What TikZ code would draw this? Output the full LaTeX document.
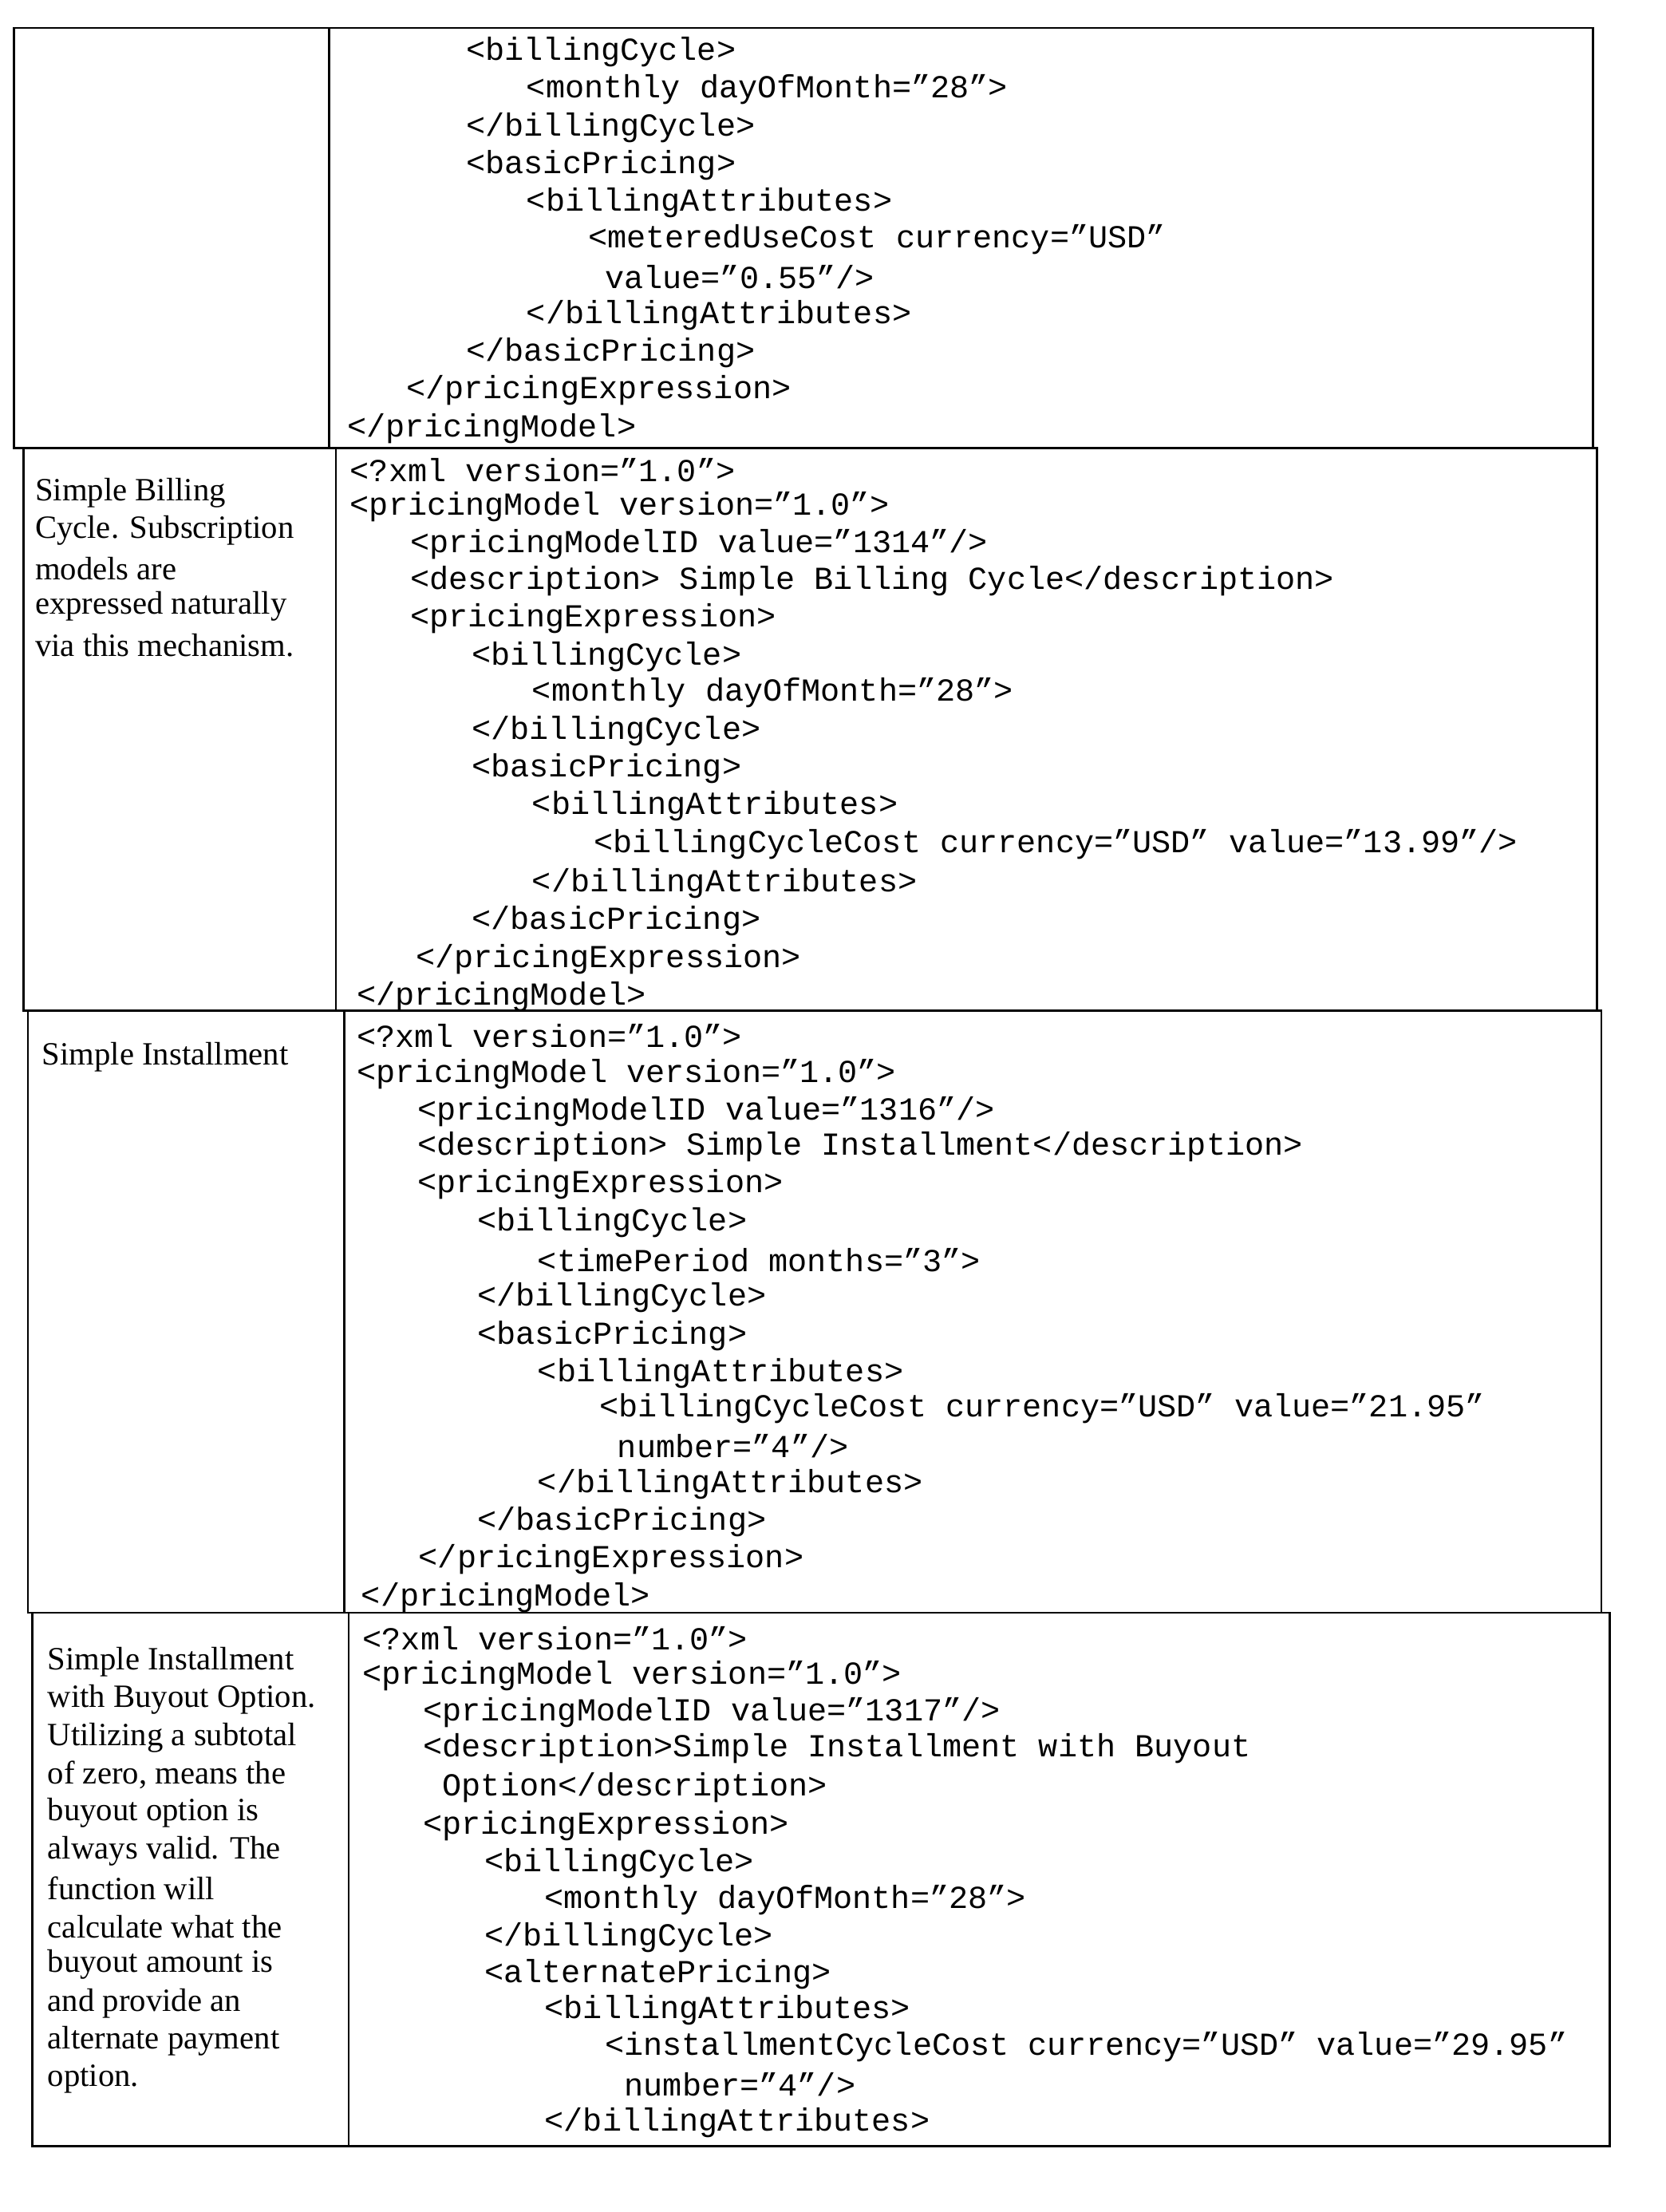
\documentclass[tikz,border=0pt]{standalone}
\usepackage{fontspec}
\setmainfont{Liberation Serif}
\newfontfamily\codefont{Liberation Mono}
\begin{document}
\begin{tikzpicture}[x=0.05cm,y=-0.05cm,
  code/.style={anchor=west,inner sep=0pt,font=\codefont\fontsize{32.6}{38}\selectfont},
  desc/.style={anchor=west,inner sep=0pt,font=\fontsize{33}{38}\selectfont},
  tbl/.style={line width=2.2pt}]
\fill[white] (0,0) rectangle (1190,1580);
\useasboundingbox (0,0) rectangle (1190,1580);
% table rows
\draw[tbl] (10,20) -- (1138,20) -- (1138,320) -- (10,320) -- cycle;
\draw[tbl] (235,20) -- (235,320);
\draw[tbl] (17,320) -- (1141,320) -- (1141,722) -- (17,722) -- cycle;
\draw[tbl] (240,320) -- (240,722);
\draw[tbl] (20,722) -- (1144,722) -- (1144,1152) -- (20,1152) -- cycle;
\draw[tbl] (246,722) -- (246,1152);
\draw[tbl] (23,1152) -- (1150,1152) -- (1150,1533) -- (23,1533) -- cycle;
\draw[tbl] (249,1152) -- (249,1533);
% row 1
\node[code] (a1) at (333,37) {<billingCycle>};
\node[code] (a2) at (376,64) {<monthly dayOfMonth=”28”>};
\node[code] (a3) at (333,91) {</billingCycle>};
\node[code] (a4) at (333,118) {<basicPricing>};
\node[code] (a5) at (376,145) {<billingAttributes>};
\node[code] (a6) at (420,171) {<meteredUseCost currency=”USD”};
\node[code] (a7) at (432,198) {value=”0.55”/>};
\node[code] (a8) at (376,225) {</billingAttributes>};
\node[code] (a9) at (333,252) {</basicPricing>};
\node[code] (a10) at (290,279) {</pricingExpression>};
\node[code] (a11) at (248,306) {</pricingModel>};
% row 2
\node[desc] (d2a) at (25,352) {Simple Billing};
\node[desc] (d2b) at (25,379) {Cycle. Subscription};
\node[desc] (d2c) at (25,406) {models are};
\node[desc] (d2d) at (25,433) {expressed naturally};
\node[desc] (d2e) at (25,461) {via this mechanism.};
\node[code] (b1) at (250,336) {<?xml version=”1.0”>};
\node[code] (b2) at (250,362) {<pricingModel version=”1.0”>};
\node[code] (b3) at (293,389) {<pricingModelID value=”1314”/>};
\node[code] (b4) at (293,415) {<description> Simple Billing Cycle</description>};
\node[code] (b5) at (293,442) {<pricingExpression>};
\node[code] (b6) at (337,469) {<billingCycle>};
\node[code] (b7) at (380,495) {<monthly dayOfMonth=”28”>};
\node[code] (b8) at (337,522) {</billingCycle>};
\node[code] (b9) at (337,549) {<basicPricing>};
\node[code] (b10) at (380,576) {<billingAttributes>};
\node[code] (b11) at (424,603) {<billingCycleCost currency=”USD” value=”13.99”/>};
\node[code] (b12) at (380,631) {</billingAttributes>};
\node[code] (b13) at (337,658) {</basicPricing>};
\node[code] (b14) at (297,685) {</pricingExpression>};
\node[code] (b15) at (255,712) {</pricingModel>};
% row 3
\node[desc] (d3a) at (30,755) {Simple Installment};
\node[code] (c1) at (255,740) {<?xml version=”1.0”>};
\node[code] (c2) at (255,767) {<pricingModel version=”1.0”>};
\node[code] (c3) at (298,794) {<pricingModelID value=”1316”/>};
\node[code] (c4) at (298,819) {<description> Simple Installment</description>};
\node[code] (c5) at (298,846) {<pricingExpression>};
\node[code] (c6) at (341,873) {<billingCycle>};
\node[code] (c7) at (384,900) {<timePeriod months=”3”>};
\node[code] (c8) at (341,927) {</billingCycle>};
\node[code] (c9) at (341,954) {<basicPricing>};
\node[code] (c10) at (384,981) {<billingAttributes>};
\node[code] (c11) at (428,1006) {<billingCycleCost currency=”USD” value=”21.95”};
\node[code] (c12) at (441,1033) {number=”4”/>};
\node[code] (c13) at (384,1060) {</billingAttributes>};
\node[code] (c14) at (341,1087) {</basicPricing>};
\node[code] (c15) at (299,1114) {</pricingExpression>};
\node[code] (c16) at (258,1141) {</pricingModel>};
% row 4
\node[desc] (d4a) at (34,1187) {Simple Installment};
\node[desc] (d4b) at (34,1214) {with Buyout Option.};
\node[desc] (d4c) at (34,1241) {Utilizing a subtotal};
\node[desc] (d4d) at (34,1268) {of zero, means the};
\node[desc] (d4e) at (34,1295) {buyout option is};
\node[desc] (d4f) at (34,1322) {always valid. The};
\node[desc] (d4g) at (34,1349) {function will};
\node[desc] (d4h) at (34,1376) {calculate what the};
\node[desc] (d4i) at (34,1403) {buyout amount is};
\node[desc] (d4j) at (34,1431) {and provide an};
\node[desc] (d4k) at (34,1458) {alternate payment};
\node[desc] (d4l) at (34,1485) {option.};
\node[code] (e1) at (259,1170) {<?xml version=”1.0”>};
\node[code] (e2) at (259,1197) {<pricingModel version=”1.0”>};
\node[code] (e3) at (302,1223) {<pricingModelID value=”1317”/>};
\node[code] (e4) at (302,1249) {<description>Simple Installment with Buyout};
\node[code] (e5) at (316,1277) {Option</description>};
\node[code] (e6) at (302,1304) {<pricingExpression>};
\node[code] (e7) at (346,1331) {<billingCycle>};
\node[code] (e8) at (389,1357) {<monthly dayOfMonth=”28”>};
\node[code] (e9) at (346,1384) {</billingCycle>};
\node[code] (e10) at (346,1410) {<alternatePricing>};
\node[code] (e11) at (389,1436) {<billingAttributes>};
\node[code] (e12) at (432,1462) {<installmentCycleCost currency=”USD” value=”29.95”};
\node[code] (e13) at (446,1489) {number=”4”/>};
\node[code] (e14) at (389,1516) {</billingAttributes>};
\end{tikzpicture}
\end{document}
